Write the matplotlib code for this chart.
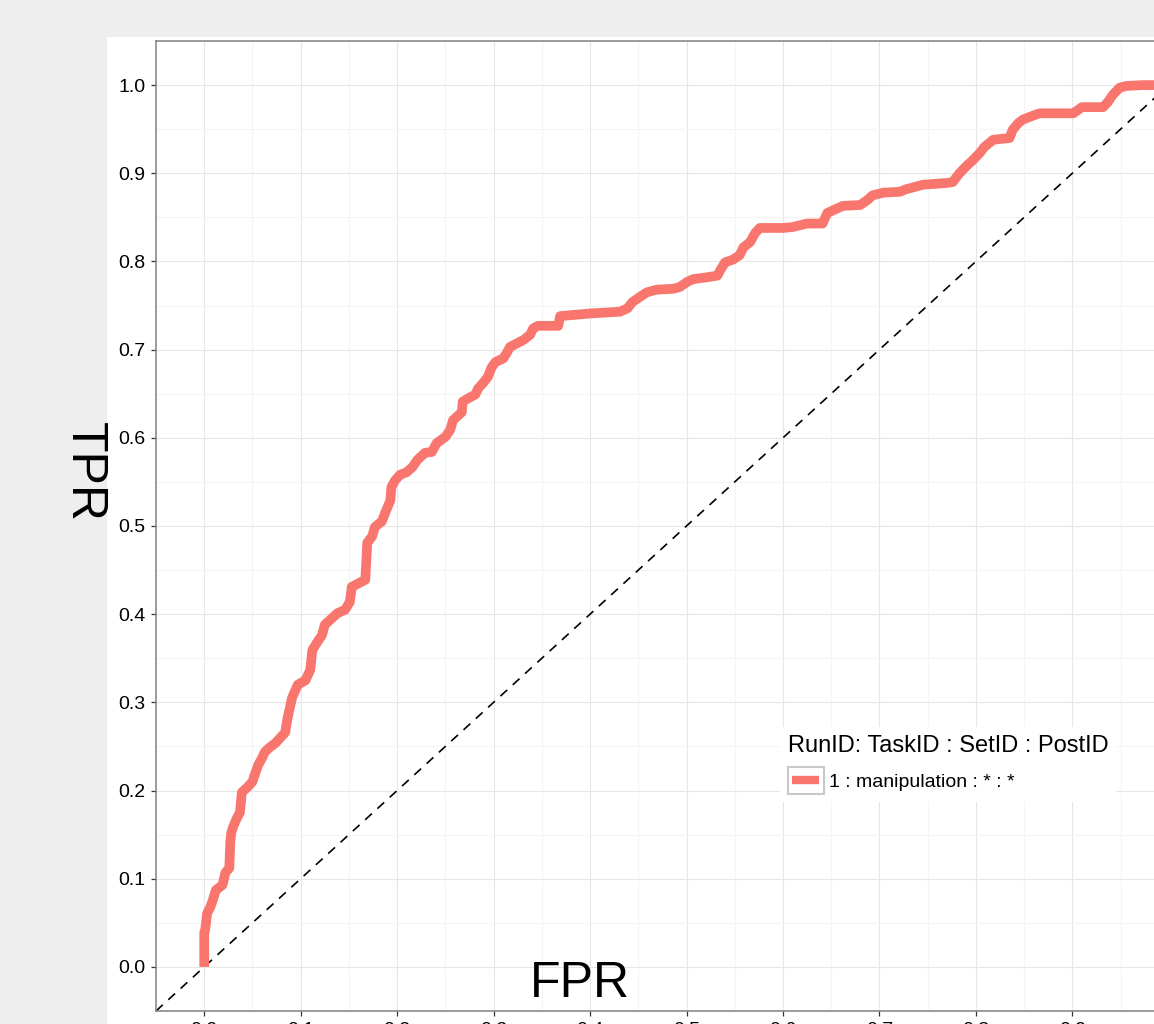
import matplotlib
matplotlib.use('Agg')
import matplotlib.pyplot as plt
from matplotlib.patches import Rectangle
from matplotlib.lines import Line2D
from matplotlib.legend_handler import HandlerBase
import numpy as np

plt.rcParams['font.family'] = ['Liberation Sans', 'DejaVu Sans']

# ROC curve
fpr = [0.0, 0.0, 0.001, 0.003, 0.006, 0.009, 0.012, 0.019, 0.022, 0.026,
       0.027, 0.028, 0.030, 0.034, 0.037, 0.039, 0.045, 0.050, 0.053, 0.056,
       0.060, 0.063, 0.068, 0.074, 0.079, 0.084, 0.086, 0.089, 0.091, 0.097,
       0.105, 0.110, 0.112, 0.117, 0.122, 0.125, 0.133, 0.138, 0.146, 0.151,
       0.153, 0.160, 0.167, 0.169, 0.174, 0.177, 0.184, 0.188, 0.193, 0.194,
       0.198, 0.203, 0.210, 0.216, 0.221, 0.229, 0.236, 0.241, 0.250, 0.255,
       0.258, 0.267, 0.268, 0.274, 0.281, 0.284, 0.289, 0.294, 0.298, 0.302,
       0.310, 0.314, 0.317, 0.324, 0.331, 0.338, 0.341, 0.346, 0.367, 0.369,
       0.400, 0.431, 0.439, 0.444, 0.452, 0.459, 0.469, 0.486, 0.493, 0.501,
       0.507, 0.521, 0.532, 0.535, 0.540, 0.548, 0.555, 0.559, 0.566, 0.571,
       0.576, 0.600, 0.610, 0.625, 0.641, 0.646, 0.652, 0.662, 0.680, 0.688,
       0.693, 0.704, 0.721, 0.728, 0.735, 0.745, 0.770, 0.776, 0.783, 0.791,
       0.797, 0.804, 0.809, 0.818, 0.835, 0.838, 0.844, 0.849, 0.856, 0.866,
       0.901, 0.910, 0.932, 0.937, 0.942, 0.949, 0.956, 0.973, 1.0]
tpr = [0.0, 0.039, 0.042, 0.061, 0.067, 0.076, 0.087, 0.093, 0.107, 0.112,
       0.141, 0.152, 0.159, 0.169, 0.175, 0.198, 0.204, 0.210, 0.220, 0.229,
       0.237, 0.244, 0.249, 0.254, 0.260, 0.266, 0.280, 0.295, 0.305, 0.320,
       0.325, 0.337, 0.359, 0.368, 0.376, 0.388, 0.396, 0.401, 0.405, 0.414,
       0.431, 0.435, 0.439, 0.481, 0.488, 0.499, 0.505, 0.516, 0.529, 0.544,
       0.552, 0.558, 0.561, 0.567, 0.575, 0.583, 0.584, 0.594, 0.601, 0.609,
       0.620, 0.629, 0.641, 0.645, 0.649, 0.656, 0.662, 0.669, 0.680, 0.686,
       0.690, 0.697, 0.703, 0.707, 0.711, 0.717, 0.724, 0.727, 0.727, 0.738,
       0.741, 0.743, 0.747, 0.754, 0.760, 0.765, 0.768, 0.769, 0.771, 0.777,
       0.780, 0.782, 0.784, 0.790, 0.799, 0.802, 0.807, 0.816, 0.822, 0.832,
       0.838, 0.838, 0.839, 0.843, 0.843, 0.855, 0.858, 0.863, 0.864, 0.870,
       0.875, 0.878, 0.879, 0.882, 0.884, 0.887, 0.889, 0.890, 0.900, 0.909,
       0.915, 0.923, 0.930, 0.938, 0.940, 0.949, 0.957, 0.961, 0.964, 0.968,
       0.968, 0.975, 0.975, 0.981, 0.989, 0.997, 0.999, 1.0, 1.0]

run_label = '1 : manipulation : * : *'
legend_title = 'RunID: TaskID : SetID : PostID'
ticks = np.round(np.arange(0, 1.01, 0.1), 1)
tick_labels = ['%.1f' % t for t in ticks]

W, H = 1154, 1024
RED = '#F8766D'


class BoxedLineHandler(HandlerBase):
    # ggplot style legend key: grey box with a short thick line inside
    def create_artists(self, legend, orig_handle, xdescent, ydescent,
                       width, height, fontsize, trans):
        x0, y0 = -xdescent, -ydescent
        box = Rectangle((x0, y0), width, height, facecolor='white',
                        edgecolor='#C8C8C8', linewidth=1.5, transform=trans)
        ym = y0 + height / 2
        line = Line2D([x0 + 0.12 * width, x0 + 0.88 * width], [ym, ym],
                      color=orig_handle.get_color(), linewidth=6,
                      solid_capstyle='butt', transform=trans)
        return [box, line]


def main():
    fig = plt.figure(figsize=(W / 100, H / 100), dpi=100, facecolor='#EEEEEE')

    # white plot panel (cut off at right and bottom like the original)
    fig.add_artist(Rectangle((107 / W, 0), 1, 1 - 37 / H, transform=fig.transFigure,
                             facecolor='white', edgecolor='none', zorder=0))

    ax = fig.add_axes([156 / W, 13 / H, 1061 / W, 970 / H])
    ax.set_facecolor('white')
    ax.set_xlim(-0.05, 1.05)
    ax.set_ylim(-0.05, 1.05)

    ax.set_xticks(ticks)
    ax.set_xticklabels(tick_labels)
    ax.set_yticks(ticks)
    ax.set_yticklabels(tick_labels)
    ax.set_xticks(ticks[:-1] + 0.05, minor=True)
    ax.set_yticks(ticks[:-1] + 0.05, minor=True)
    ax.tick_params(which='major', labelsize=14, length=3.6, width=0.9,
                   color='#333333', pad=4)
    ax.tick_params(which='minor', length=0)
    ax.grid(which='major', color='#E6E6E6', linewidth=0.8)
    ax.grid(which='minor', color='#F4F4F4', linewidth=0.8)
    ax.set_axisbelow(True)
    for s in ax.spines.values():
        s.set_color('#808080')
        s.set_linewidth(1.1)

    ax.axline((0, 0), slope=1, color='black', linewidth=1.2,
              linestyle=(0, (5.5, 4.5)), zorder=2)
    roc, = ax.plot(fpr, tpr, color=RED, linewidth=7, solid_joinstyle='round',
                   solid_capstyle='butt', zorder=3, label=run_label)

    leg = ax.legend(handles=[roc], handler_map={Line2D: BoxedLineHandler()},
                    title=legend_title, title_fontsize=17, fontsize=14,
                    loc='upper left', bbox_to_anchor=(780 / W, 1 - 727 / H),
                    bbox_transform=fig.transFigure, borderaxespad=0,
                    handlelength=1.85, handleheight=1.8, handletextpad=0.25,
                    frameon=True, fancybox=False, framealpha=1,
                    alignment='left', borderpad=0.4)
    leg.get_frame().set_edgecolor('none')
    leg.get_frame().set_facecolor('white')

    fig.text(84 / W, 1 - 472 / H, 'TPR', rotation=270, fontsize=36,
             ha='center', va='center')
    fig.text(580 / W, 1 - 997 / H, 'FPR', fontsize=36, ha='center', va='baseline')

    fig.savefig('out.png', dpi=100, facecolor=fig.get_facecolor())


if __name__ == '__main__':
    main()
